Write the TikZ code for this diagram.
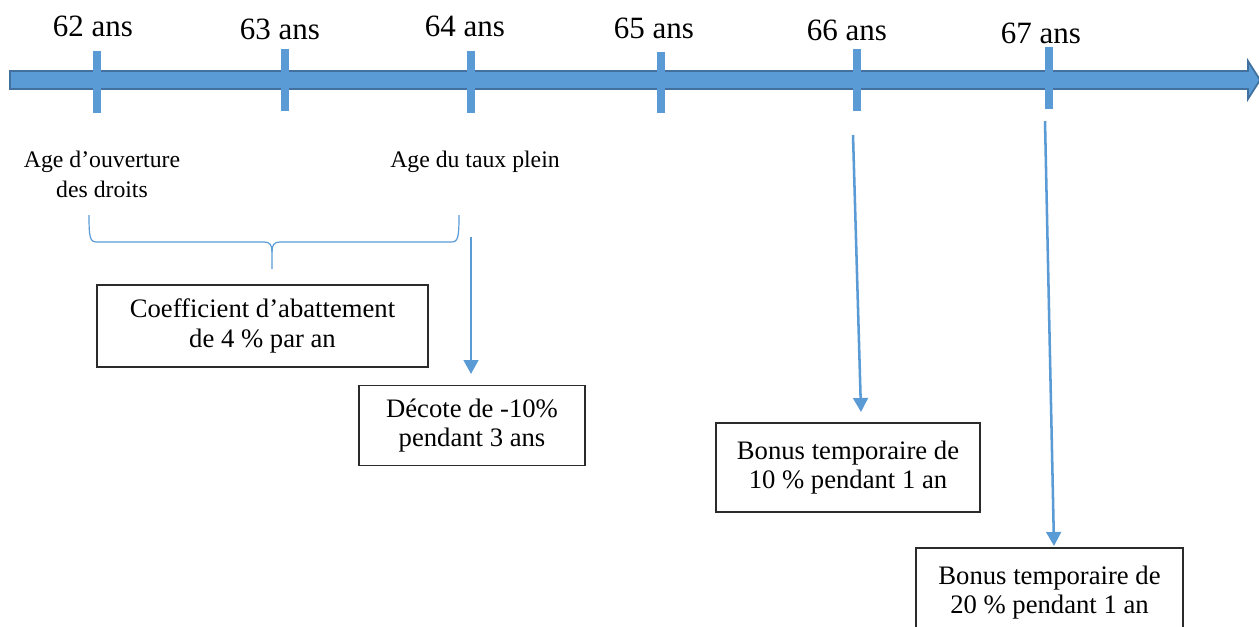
\documentclass[tikz,border=0pt]{standalone}
\usepackage{fontspec}
\setmainfont{Liberation Serif}
\usetikzlibrary{arrows.meta}
\definecolor{axisblue}{HTML}{5B9BD5}
\definecolor{axisedge}{HTML}{41719C}
\definecolor{boxedge}{HTML}{2B2B2B}
\begin{document}
\begin{tikzpicture}[x=0.75pt,y=-0.75pt,
  agelabel/.style={anchor=base,inner sep=0pt,font=\fontsize{23.25}{26}\selectfont},
  smalllabel/.style={anchor=base,inner sep=0pt,align=center,font=\fontsize{17.8}{22.5}\selectfont},
  infobox/.style={draw=boxedge,line width=1pt,fill=white,align=center,inner sep=0pt,
    font=\fontsize{20}{22}\selectfont},
  tickmark/.style={fill=axisblue,draw=none},
  pointer/.style={draw=axisblue,line width=1.9pt,-{Triangle[width=11pt,length=10.5pt]}},
  bracepath/.style={draw=axisblue,line width=0.9pt}
]
\clip (0,0) rectangle (1259,626);
\fill[white] (0,0) rectangle (1259,626);

% main time axis arrow
\filldraw[fill=axisblue,draw=axisedge,line width=1.3pt,line join=miter]
  (10,71) -- (1248,71) -- (1248,61) -- (1260,80) -- (1248,99) -- (1248,89) -- (10,89) -- cycle;

% ticks
\fill[tickmark] (93,51) rectangle (101,113);
\fill[tickmark] (281,49) rectangle (289,111);
\fill[tickmark] (467,51) rectangle (475,113);
\fill[tickmark] (657,52) rectangle (665,113);
\fill[tickmark] (853,49) rectangle (861,111);
\fill[tickmark] (1045,47) rectangle (1053,109);

% age labels
\node[agelabel] (a62) at (93,36) {62 ans};
\node[agelabel] (a63) at (280,39) {63 ans};
\node[agelabel] (a64) at (465,36) {64 ans};
\node[agelabel] (a65) at (654,38) {65 ans};
\node[agelabel] (a66) at (847,40) {66 ans};
\node[agelabel] (a67) at (1041,43) {67 ans};

% small labels
\node[smalllabel] (ouv) at (102,197) {Age d’ouverture\\des droits};
\node[smalllabel] (plein) at (475,167) {Age du taux plein};

% brace
\draw[bracepath] (89,215) .. controls (89,238) and (90,242) .. (97,242) -- (264,242)
  .. controls (270,242) and (272,245) .. (272,252) -- (272,269);
\draw[bracepath] (272,252) .. controls (272,245) and (274,242) .. (280,242) -- (451,242)
  .. controls (458,242) and (459,238) .. (459,215);

% boxes
\node[infobox,minimum width=248.25pt,minimum height=61.5pt] (coef) at (262.5,326)
  {Coefficient d’abattement\\de 4 \% par an};
\node[infobox,minimum width=169.5pt,minimum height=60pt] (decote) at (472,425.5)
  {Décote de -10\%\\pendant 3 ans};
\node[infobox,minimum width=198pt,minimum height=66.75pt] (bonus10) at (848,467.5)
  {Bonus temporaire de\\10 \% pendant 1 an};
\node[infobox,minimum width=200.25pt,minimum height=66.75pt] (bonus20) at (1049.5,592.5)
  {Bonus temporaire de\\20 \% pendant 1 an};

% pointers
\coordinate (s1) at (471,237);
\coordinate (e1) at (471,374);
\coordinate (s2) at (853,135);
\coordinate (e2) at (861,412);
\coordinate (s3) at (1045,121);
\coordinate (e3) at (1054,546);
\draw[pointer] (s1) -- (e1);
\draw[pointer] (s2) -- (e2);
\draw[pointer] (s3) -- (e3);
\end{tikzpicture}
\end{document}
